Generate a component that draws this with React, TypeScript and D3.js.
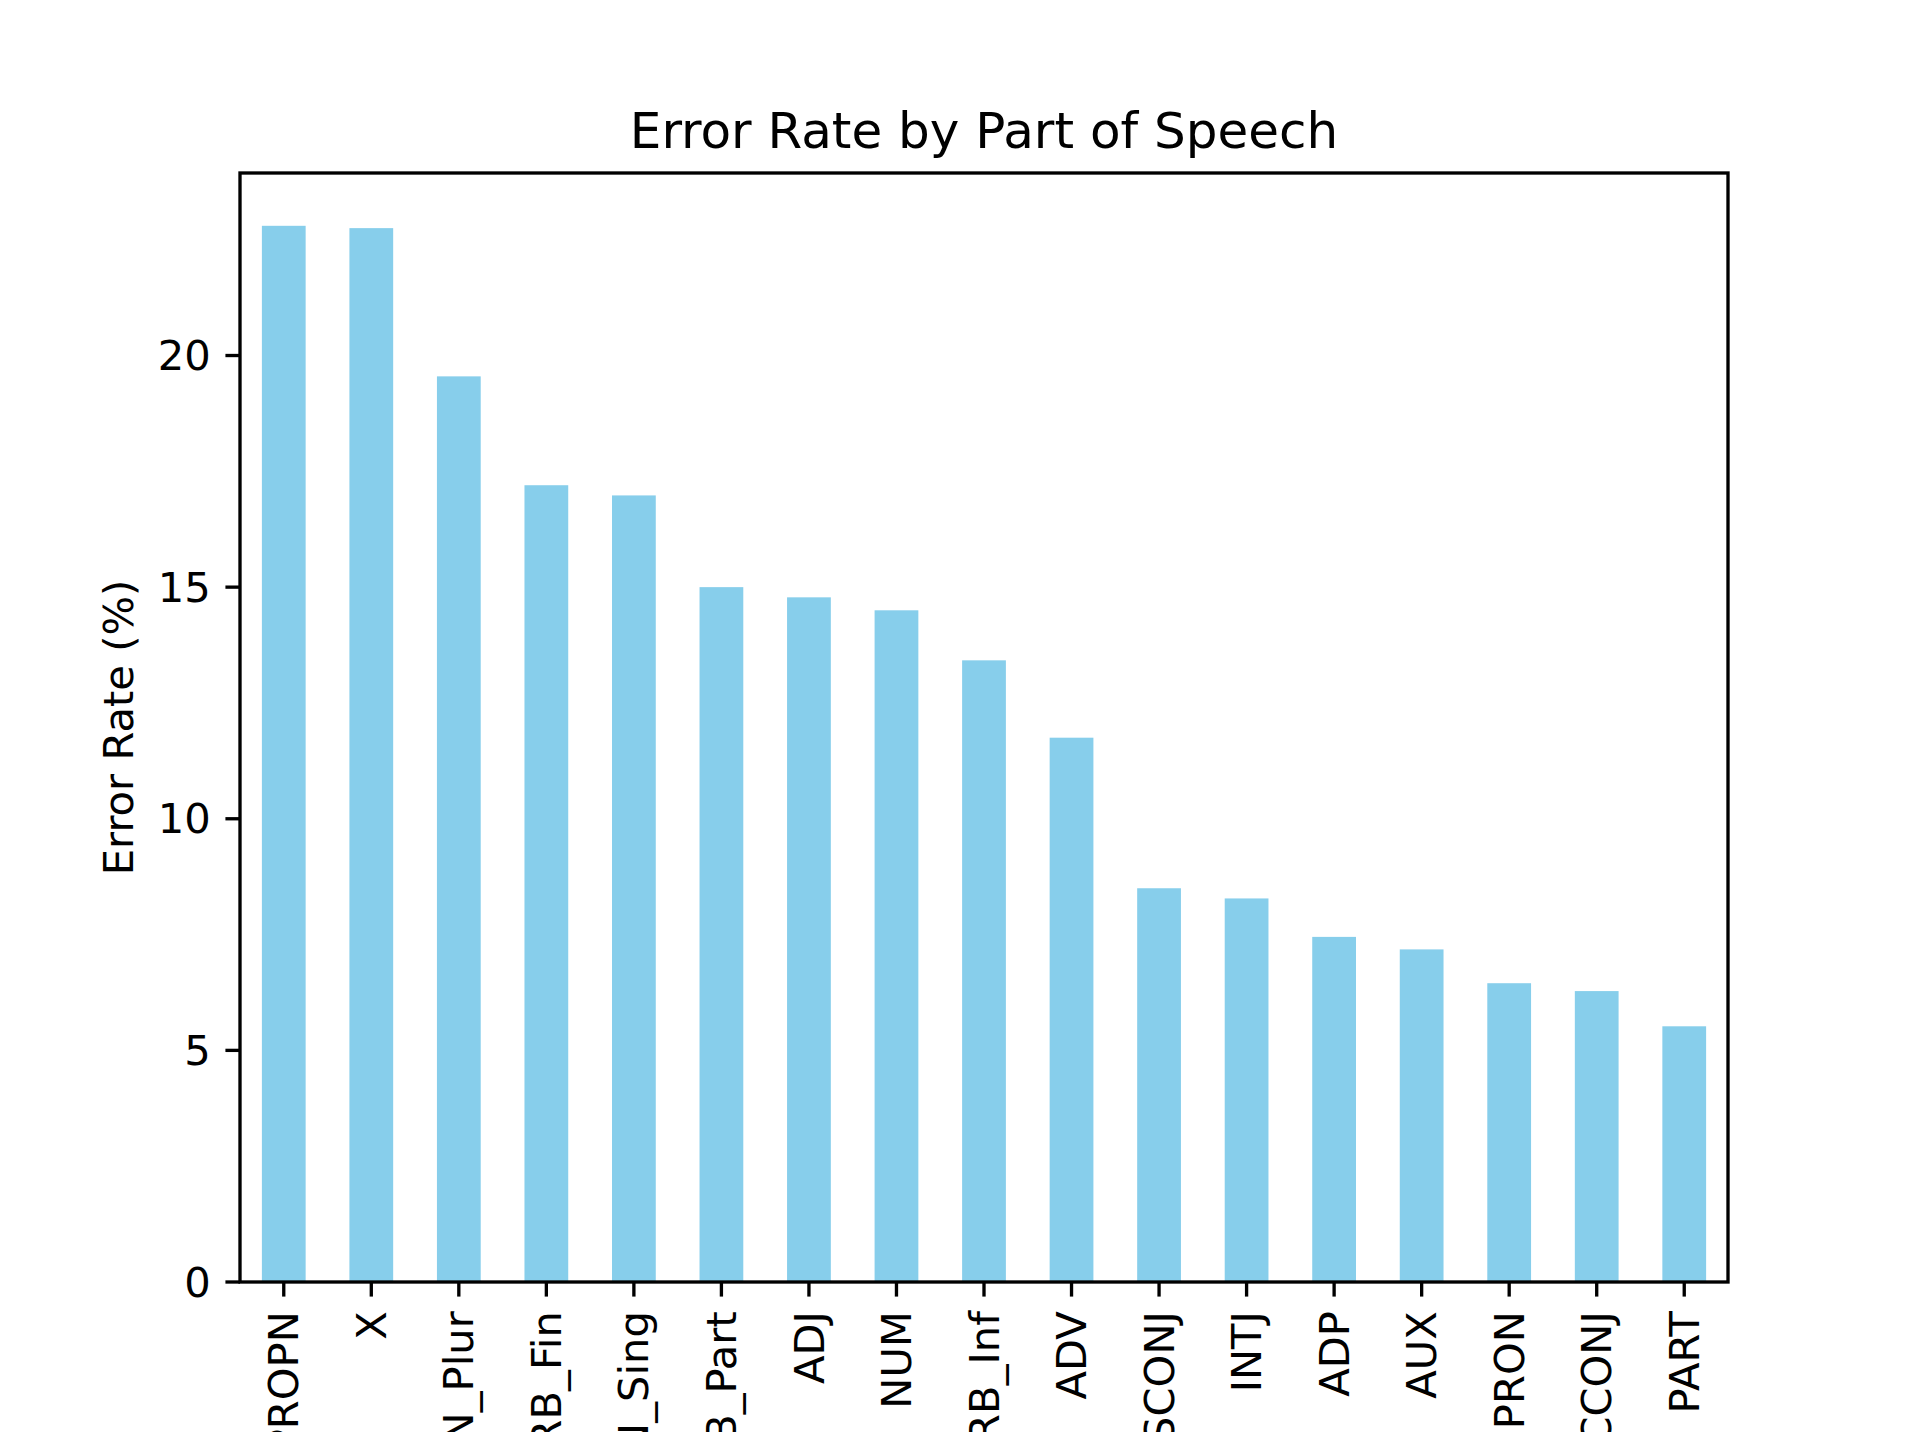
import React from 'react';
import * as d3 from 'd3';

const categories = ['PROPN', 'X', 'NOUN_Plur', 'VERB_Fin', 'NOUN_Sing', 'VERB_Part', 'ADJ', 'NUM', 'VERB_Inf', 'ADV', 'SCONJ', 'INTJ', 'ADP', 'AUX', 'PRON', 'CCONJ', 'PART'];
const errorRates = [22.8, 22.75, 19.55, 17.2, 16.98, 15.0, 14.78, 14.5, 13.42, 11.75, 8.5, 8.28, 7.45, 7.18, 6.45, 6.28, 5.52];
const yTicks = [0, 5, 10, 15, 20];

const W = 1920, H = 1440;
const left = 240, right = 1728, top = 173, bottom = 1282;
const pt = 300 / 72;

export default function App() {
  const n = categories.length;
  const x = d3.scaleLinear().domain([-0.5, n - 0.5]).range([left, right]);
  const y = d3.scaleLinear().domain([0, d3.max(errorRates)! * 1.05]).range([bottom, top]);
  const bw = x(0.25) - x(-0.25);
  const font = 10 * pt;
  const tick = 3.5 * pt;
  return (
    <svg width={W} height={H} style={{ display: 'block', margin: -8 }} fontFamily="DejaVu Sans" fill="#000">
      <rect width={W} height={H} fill="#fff" />
      <text x={(left + right) / 2} y={top - 6 * pt} textAnchor="middle" fontSize={12 * pt}>Error Rate by Part of Speech</text>
      {errorRates.map((v, i) => (
        <rect key={i} x={x(i) - bw / 2} y={y(v)} width={bw} height={y(0) - y(v)} fill="#87ceeb" />
      ))}
      {yTicks.map(t => (
        <g key={t}>
          <line x1={left - tick} x2={left} y1={y(t)} y2={y(t)} stroke="#000" strokeWidth={0.8 * pt} />
          <text x={left - tick - 3.5 * pt} y={y(t)} dy="0.35em" textAnchor="end" fontSize={font}>{t}</text>
        </g>
      ))}
      {categories.map((c, i) => (
        <g key={c}>
          <line x1={x(i)} x2={x(i)} y1={bottom} y2={bottom + tick} stroke="#000" strokeWidth={0.8 * pt} />
          <text transform={`translate(${x(i)},${bottom + tick + 3.5 * pt}) rotate(-90)`} dy="0.35em" textAnchor="end" fontSize={font}>{c}</text>
        </g>
      ))}
      <text transform={`translate(${left - 107},${(top + bottom) / 2}) rotate(-90)`} textAnchor="middle" fontSize={font}>Error Rate (%)</text>
      <rect x={left} y={top} width={right - left} height={bottom - top} fill="none" stroke="#000" strokeWidth={0.8 * pt} />
    </svg>
  );
}
